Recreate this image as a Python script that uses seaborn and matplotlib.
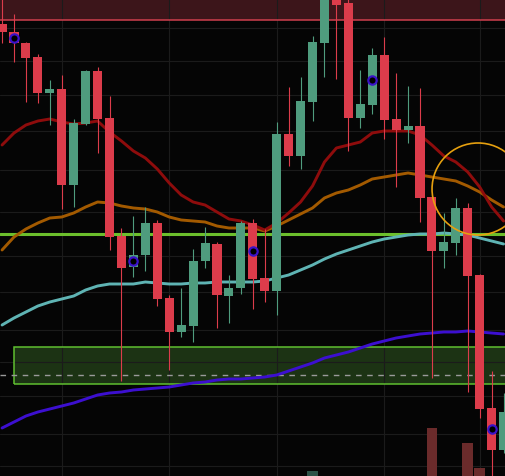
import numpy as np
import pandas as pd
import seaborn as sns
import matplotlib.pyplot as plt
from matplotlib.patches import Ellipse, Rectangle

# candle data (arbitrary price units)
opens  = [452, 444, 433, 419, 383, 387, 291, 352, 405, 358, 240, 209, 221, 253, 178, 144, 150, 215, 232, 180, 188, 253,
          198, 185, 342, 320, 374, 433, 482, 473, 358, 371, 421, 357, 346, 350, 279, 225, 233, 268, 201, 68, 26]
highs  = [482, 462, 434, 422, 396, 401, 357, 406, 409, 380, 248, 260, 269, 256, 181, 188, 227, 249, 234, 201, 255, 257,
          247, 354, 389, 399, 440, 497, 497, 492, 406, 428, 439, 403, 390, 388, 279, 263, 278, 273, 202, 105, 83]
lows   = [433, 414, 374, 373, 351, 267, 269, 351, 323, 226, 95, 199, 205, 170, 106, 139, 134, 208, 148, 153, 182, 167,
          174, 161, 310, 307, 355, 399, 397, 325, 348, 362, 337, 289, 333, 254, 98, 208, 221, 84, 58, -13, 23]
closes = [444, 433, 418, 383, 387, 291, 353, 405, 357, 239, 208, 221, 253, 177, 144, 151, 215, 233, 181, 188, 253, 197,
          185, 342, 320, 375, 434, 487, 471, 358, 372, 421, 356, 346, 350, 278, 225, 234, 268, 200, 67, 26, 64]
volume = [62, 55, 48, 70, 41, 88, 66, 52, 47, 93, 85, 58, 49, 61, 80, 44, 72, 39, 57, 46, 68, 75,
          51, 96, 63, 77, 105, 90, 54, 98, 45, 59, 71, 40, 37, 82, 148, 50, 64, 133, 108, 92, 69]

# moving averages
ma_red = [331, 343, 351, 355, 357, 354, 352, 353, 355, 344, 335, 325, 318, 307, 293, 281, 274, 271, 264, 257, 255, 251,
          246, 253, 263, 274, 290, 314, 328, 331, 334, 343, 345, 345, 345, 341, 331, 320, 314, 304, 289, 269, 255]
ma_orange = [226, 239, 247, 253, 258, 259, 263, 269, 274, 273, 270, 268, 267, 264, 259, 256, 255, 254, 250, 248, 248, 248,
             245, 250, 256, 262, 268, 278, 283, 286, 291, 297, 299, 301, 303, 301, 299, 297, 295, 290, 284, 276, 269]
ma_teal = [151, 158, 164, 170, 174, 177, 180, 186, 190, 192, 192, 192, 194, 193, 192, 192, 193, 193, 194, 194, 194, 194,
           195, 198, 201, 206, 211, 217, 222, 226, 230, 234, 237, 239, 241, 242, 242, 243, 242, 241, 238, 235, 232]
ma_purple = [48, 54, 60, 64, 67, 70, 73, 77, 81, 83, 84, 86, 87, 88, 89, 91, 93, 94, 96, 97, 97, 98,
             99, 101, 105, 109, 113, 118, 121, 124, 128, 132, 135, 138, 140, 142, 143, 144, 144, 145, 144, 143, 142]

# levels
resist_level = 456
key_level = 242
zone_low, zone_high, zone_mid = 92, 129, 101
marked = [1, 11, 21, 31, 41]

df = pd.DataFrame({'o': opens, 'h': highs, 'l': lows, 'c': closes, 'v': volume})
df['i'] = np.arange(len(df))
up = df['c'] >= df['o']

RED = '#dc3c4b'
GREEN = '#4f9c7e'

sns.set_theme(style='dark', rc={'axes.facecolor': '#050505', 'figure.facecolor': '#050505'})

fig = plt.figure(figsize=(5.05, 4.77), dpi=100)
ax = fig.add_axes([0, 0, 1, 1])
ax.set_xlim(-0.1725, 42.12)
ax.set_ylim(0, 477)
ax.set_xticks([5, 14, 23, 32, 40])
ax.set_yticks([448, 415, 381, 345, 306, 264, 220, 184, 146, 114, 80, 42, 10])
ax.tick_params(length=0, labelleft=False, labelbottom=False)
ax.grid(True, color='#1b1b1b', lw=0.8)
ax.set_axisbelow(True)
for s in ax.spines.values():
    s.set_visible(False)

# resistance band at top
ax.axhspan(resist_level, 520, color='#3c151a', lw=0, zorder=0.3)
ax.axhline(resist_level, color='#cf3f4d', lw=1.1, zorder=1)

# demand zone
ax.add_patch(Rectangle((1, zone_low), 45, zone_high - zone_low, facecolor='#1c3314', edgecolor='none', zorder=0.3))
ax.add_patch(Rectangle((1, zone_low), 45, zone_high - zone_low, facecolor='none', edgecolor='#5fbf30', lw=1.1, zorder=1.2))
ax.axhline(zone_mid, color='#9a9a9a', lw=1.0, ls=(0, (4, 4)), zorder=1.5)

ax.axhline(key_level, color='#6cbf2c', lw=2.2, zorder=2)

for ma, col in [(ma_purple, '#3c0fd0'), (ma_teal, '#5fb4b4'), (ma_orange, '#a35a00'), (ma_red, '#8e0c0c')]:
    sns.lineplot(x=df['i'], y=ma, color=col, lw=2.1, ax=ax, zorder=2.2, solid_capstyle='round')

# volume
ax2 = ax.twinx()
ax2.set_ylim(100, 577)
ax2.bar(df['i'], df['v'], width=0.9, color=np.where(up, '#2b5247', '#6b2b2b'), lw=0, edgecolor='none', zorder=1)
ax2.set_yticks([])
ax2.grid(False)
for s in ax2.spines.values():
    s.set_visible(False)

# candles
cols = np.where(up, GREEN, RED)
ax.vlines(df['i'], df['l'], df['h'], colors=cols, lw=0.8, zorder=3)
body_lo = np.minimum(df['o'], df['c'])
body_h = np.abs(df['c'] - df['o'])
ax.bar(df['i'], body_h, bottom=body_lo, width=0.76, color=cols, lw=0, edgecolor='none', zorder=3.1)

# markers every tenth candle
mid = (df['o'] + df['c']) / 2
ax.scatter(df['i'][marked], mid[marked], s=36, facecolor='black', edgecolor='#3a12c8', linewidths=1.6, zorder=4)

ax.add_patch(Ellipse((39.86, 287), 7.7, 92, facecolor='none', edgecolor='#e6a00f', lw=1.2, zorder=5))

ax.set_xlabel('')
ax.set_ylabel('')
fig.savefig('out.png', dpi=100, facecolor='#050505')
